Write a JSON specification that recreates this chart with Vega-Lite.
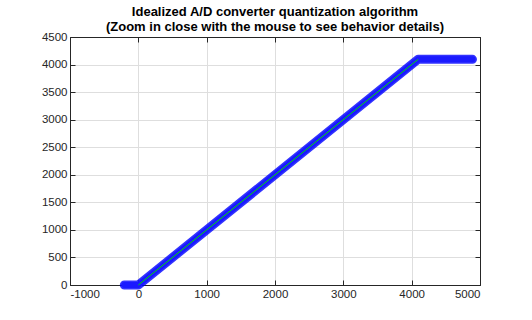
{
  "$schema": "https://vega.github.io/schema/vega-lite/v6.json",
  "width": 410,
  "height": 248,
  "autosize": "none",
  "padding": {"left": 70, "top": 37, "right": 52, "bottom": 35},
  "background": "white",
  "config": {
    "view": {"stroke": "#262626", "strokeWidth": 1},
    "font": "Liberation Sans",
    "axis": {
      "labelFont": "Liberation Sans",
      "labelFontSize": 11.5,
      "labelColor": "#262626",
      "domainColor": "#262626",
      "tickColor": "#262626",
      "tickSize": -5,
      "gridColor": "#dedede",
      "gridOpacity": 1,
      "title": null,
      "labelPadding": 8,
      "labelExpr": "'' + datum.value"
    }
  },
  "title": {
    "text": ["Idealized A/D converter quantization algorithm", "(Zoom in close with the mouse to see behavior details)"],
    "fontSize": 13,
    "fontWeight": "bold",
    "color": "#000000",
    "font": "Liberation Sans",
    "offset": 6,
    "dy": 9,
    "lineHeight": 15,
    "anchor": "middle"
  },
  "datasets": {
    "quant": [
      {"x": -205, "y": 0},
      {"x": 0, "y": 0},
      {"x": 4095, "y": 4095},
      {"x": 4890, "y": 4095}
    ],
    "ideal": [
      {"x": 0, "y": 0},
      {"x": 4095, "y": 4095}
    ]
  },
  "layer": [
    {
      "data": {"name": "quant"},
      "mark": {"type": "line", "color": "#0000ff", "strokeWidth": 9, "strokeCap": "round", "strokeJoin": "round", "opacity": 0.8},
      "encoding": {
        "x": {"field": "x", "type": "quantitative", "scale": {"domain": [-1000, 5000], "nice": false, "zero": false},
              "axis": {"values": [-1000, 0, 1000, 2000, 3000, 4000, 5000], "grid": true}},
        "y": {"field": "y", "type": "quantitative", "scale": {"domain": [0, 4500], "nice": false},
              "axis": {"values": [0, 500, 1000, 1500, 2000, 2500, 3000, 3500, 4000, 4500], "grid": true}}
      }
    },
    {
      "data": {"name": "quant"},
      "mark": {"type": "line", "color": "#1a1aff", "strokeWidth": 6, "strokeCap": "round", "strokeJoin": "round"},
      "encoding": {
        "x": {"field": "x", "type": "quantitative", "scale": {"domain": [-1000, 5000], "nice": false, "zero": false}, "axis": null},
        "y": {"field": "y", "type": "quantitative", "scale": {"domain": [0, 4500], "nice": false}, "axis": null}
      }
    },
    {
      "data": {"name": "ideal"},
      "mark": {"type": "line", "color": "#00e000", "strokeWidth": 1},
      "encoding": {
        "x": {"field": "x", "type": "quantitative", "scale": {"domain": [-1000, 5000], "nice": false, "zero": false},
              "axis": {"orient": "top", "labels": false, "grid": false, "values": [-1000, 0, 1000, 2000, 3000, 4000, 5000]}},
        "y": {"field": "y", "type": "quantitative", "scale": {"domain": [0, 4500], "nice": false},
              "axis": {"orient": "right", "labels": false, "grid": false, "values": [0, 500, 1000, 1500, 2000, 2500, 3000, 3500, 4000, 4500]}}
      }
    }
  ],
  "resolve": {"axis": {"x": "independent", "y": "independent"}}
}
